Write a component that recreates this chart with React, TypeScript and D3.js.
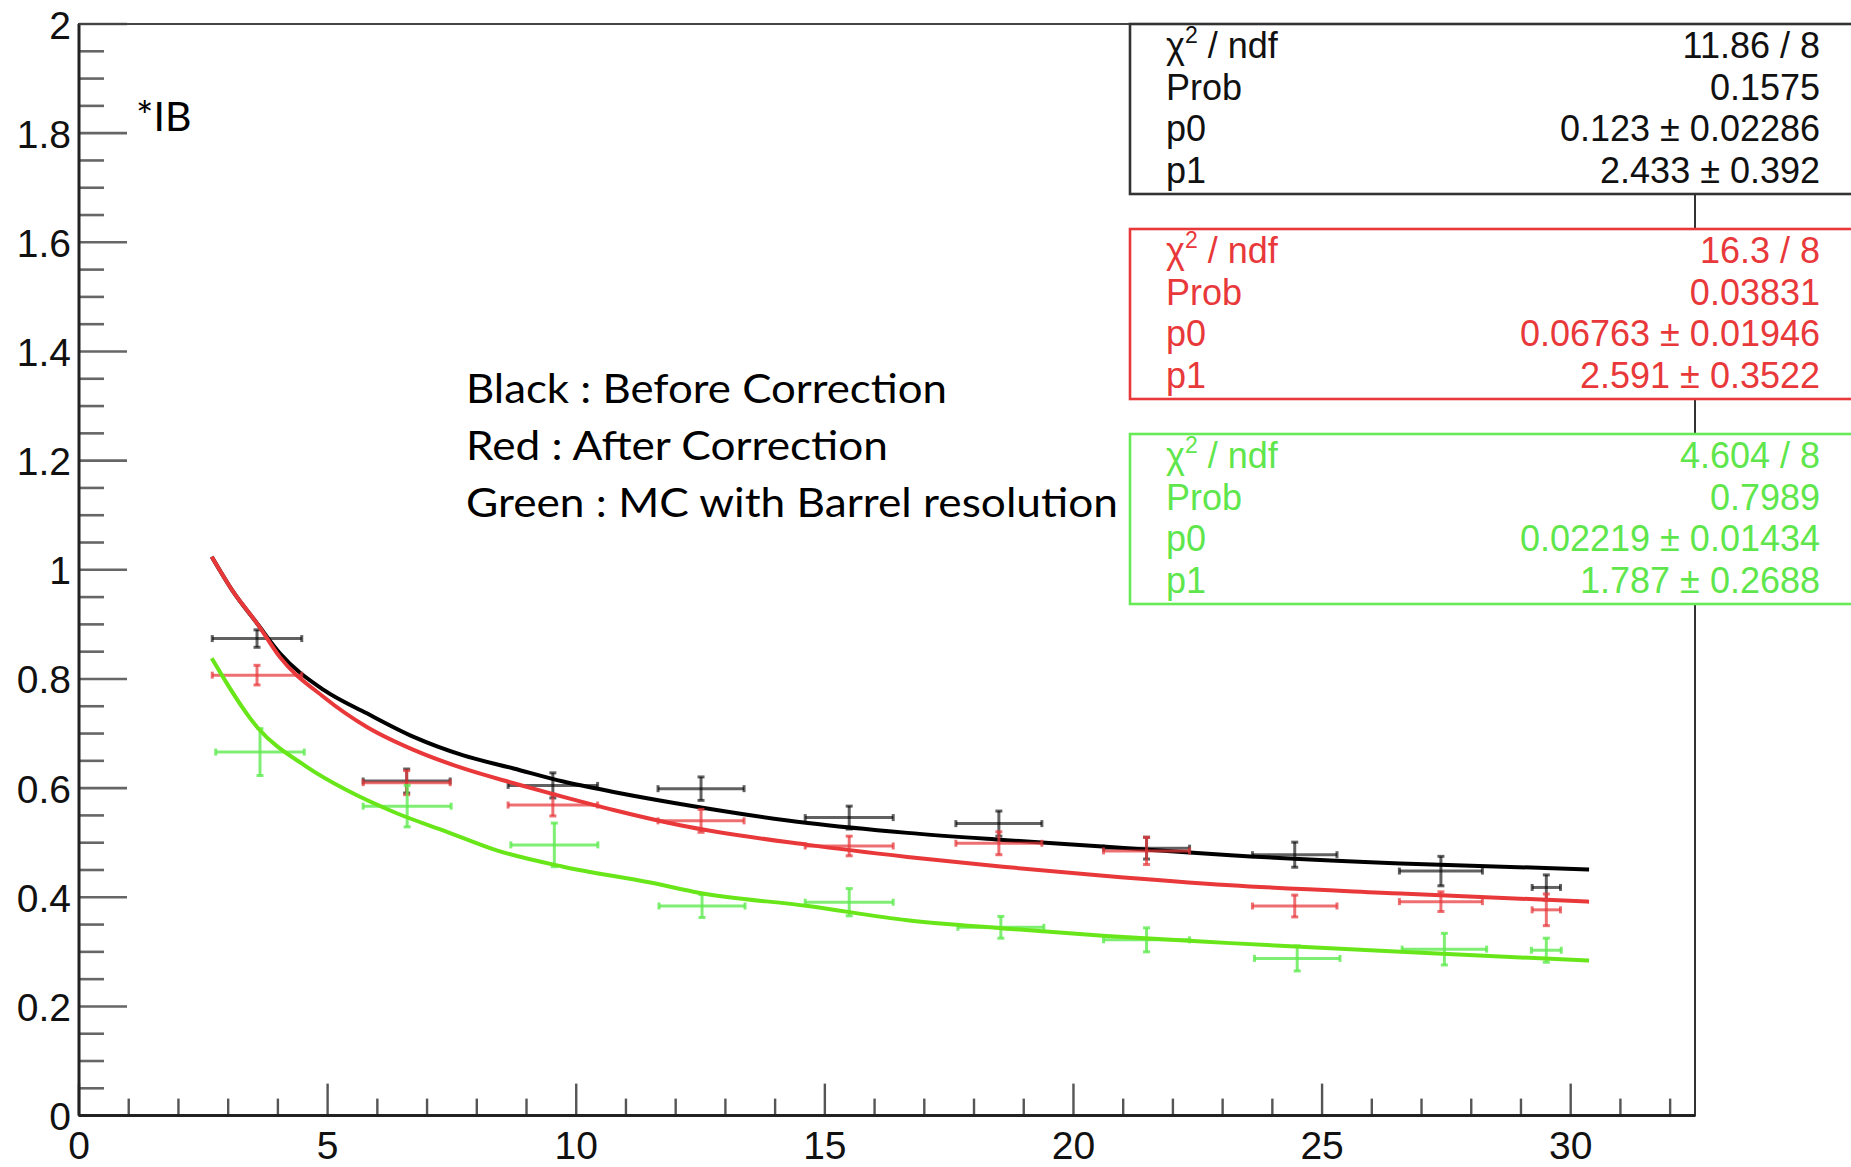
import * as d3 from "d3";

const WIDTH = 1851;
const HEIGHT = 1167;
const FRAME = { left: 79, top: 24, right: 1695, bottom: 1115.6 };

// bin centres and half widths (shared by the three graphs)
const binX = [3.58, 6.59, 9.53, 12.51, 15.49, 18.5, 21.47, 24.45, 27.39, 29.51];
const binXErr = [0.9, 0.875, 0.9, 0.865, 0.885, 0.865, 0.865, 0.85, 0.835, 0.285];
const greenX = [3.64, 6.6, 9.56, 12.53, 15.49, 18.54, 21.47, 24.5, 27.46, 29.51];
const greenXErr = [0.89, 0.885, 0.875, 0.865, 0.885, 0.865, 0.865, 0.86, 0.85, 0.3];

const blackY = [0.874, 0.613, 0.605, 0.599, 0.546, 0.535, 0.49, 0.478, 0.448, 0.418];
const blackYErr = [0.016, 0.022, 0.023, 0.0215, 0.021, 0.023, 0.02, 0.023, 0.027, 0.023];
const redY = [0.807, 0.61, 0.569, 0.54, 0.494, 0.499, 0.485, 0.384, 0.392, 0.377];
const redYErr = [0.018, 0.022, 0.02, 0.021, 0.018, 0.021, 0.025, 0.02, 0.018, 0.029];
const greenY = [0.666, 0.567, 0.496, 0.384, 0.391, 0.345, 0.322, 0.288, 0.305, 0.303];
const greenYErr = [0.043, 0.038, 0.04, 0.021, 0.025, 0.02, 0.022, 0.023, 0.029, 0.022];

// fitted curves
const fitX = [2.67, 3.1, 3.58, 4.04, 4.92, 5.79, 6.73, 7.73, 8.74, 9.74, 10.75, 12.09, 14.66, 16.66, 18.58, 20.66, 23.16, 26.58, 30.37];
const blackFit = [1.024, 0.96, 0.902, 0.847, 0.78, 0.737, 0.694, 0.66, 0.636, 0.612, 0.593, 0.571, 0.536, 0.518, 0.505, 0.4925, 0.477, 0.462, 0.451];
const redFit = [1.024, 0.96, 0.902, 0.84, 0.767, 0.712, 0.67, 0.636, 0.609, 0.584, 0.56, 0.532, 0.496, 0.474, 0.456, 0.439, 0.422, 0.407, 0.392];
const greenFitX = [2.67, 3.58, 4.58, 5.39, 6.39, 7.4, 8.4, 9.74, 11.49, 12.49, 14.66, 16.66, 18.58, 20.66, 23.16, 26.58, 30.37];
const greenFit = [0.838, 0.712, 0.639, 0.596, 0.554, 0.52, 0.486, 0.456, 0.427, 0.408, 0.384, 0.358, 0.343, 0.329, 0.316, 0.3, 0.284];

const statNames = ["ndf", "Prob", "p0", "p1"];
const blackStats = ["11.86 / 8", "0.1575", "0.123 \u00B1 0.02286", "2.433 \u00B1 0.392"];
const redStats = ["16.3 / 8", "0.03831", "0.06763 \u00B1 0.01946", "2.591 \u00B1 0.3522"];
const greenStats = ["4.604 / 8", "0.7989", "0.02219 \u00B1 0.01434", "1.787 \u00B1 0.2688"];

const legendLines = [
  "Black : Before Correction",
  "Red : After Correction",
  "Green : MC with Barrel resolution",
];

const RED = "#e8383a";
const GREEN_LINE = "#68e61a";
const GREEN_TEXT = "#5fe64c";

type Series = {
  x: number[];
  xe: number[];
  y: number[];
  ye: number[];
  fx: number[];
  fy: number[];
  barColor: string;
  lineColor: string;
};

const series: Series[] = [
  { x: binX, xe: binXErr, y: blackY, ye: blackYErr, fx: fitX, fy: blackFit, barColor: "rgba(0,0,0,0.62)", lineColor: "#000" },
  { x: binX, xe: binXErr, y: redY, ye: redYErr, fx: fitX, fy: redFit, barColor: "rgba(232,56,58,0.72)", lineColor: RED },
  { x: greenX, xe: greenXErr, y: greenY, ye: greenYErr, fx: greenFitX, fy: greenFit, barColor: "rgba(95,235,80,0.8)", lineColor: GREEN_LINE },
];

const stats = [
  { values: blackStats, color: "#111", border: "#333" },
  { values: redStats, color: RED, border: RED },
  { values: greenStats, color: GREEN_TEXT, border: "#66ea55" },
];

export default function App() {
  const xScale = d3.scaleLinear().domain([0, 32.5]).range([FRAME.left, FRAME.right]);
  const yScale = d3.scaleLinear().domain([0, 2]).range([FRAME.bottom, FRAME.top]);

  const line = d3
    .line<[number, number]>()
    .x((d) => xScale(d[0]))
    .y((d) => yScale(d[1]))
    .curve(d3.curveMonotoneX);

  const yTicks = d3.range(0, 41).map((i) => ({ v: i * 0.05, major: i % 4 === 0 }));
  const xTicks = d3.range(0, 33).map((i) => ({ v: i, major: i % 5 === 0 }));

  const cap = 3.5;

  return (
    <div style={{ position: "absolute", left: 0, top: 0 }}>
      <svg width={WIDTH} height={HEIGHT} style={{ display: "block", background: "#fff" }}>
        {/* frame */}
        <rect
          x={FRAME.left}
          y={FRAME.top}
          width={FRAME.right - FRAME.left}
          height={FRAME.bottom - FRAME.top}
          fill="none"
          stroke="#333"
          strokeWidth={2}
        />

        {/* y ticks */}
        {yTicks.map((t, i) => (
          <line
            key={"yt" + i}
            x1={FRAME.left}
            x2={FRAME.left + (t.major ? 48 : 25)}
            y1={yScale(t.v)}
            y2={yScale(t.v)}
            stroke="#666"
            strokeWidth={2.6}
          />
        ))}
        {yTicks
          .filter((t) => t.major)
          .map((t, i) => (
            <text
              key={"yl" + i}
              x={71}
              y={yScale(t.v) + 14.5}
              textAnchor="end"
              fontFamily="Liberation Sans, Arial, sans-serif"
              fontSize={39}
              fill="#111"
            >
              {d3.format("~g")(+t.v.toFixed(2))}
            </text>
          ))}

        {/* x ticks */}
        {xTicks.map((t, i) => (
          <line
            key={"xt" + i}
            x1={xScale(t.v)}
            x2={xScale(t.v)}
            y1={FRAME.bottom}
            y2={FRAME.bottom - (t.major ? 32 : 17)}
            stroke="#555"
            strokeWidth={2.4}
          />
        ))}
        {xTicks
          .filter((t) => t.major)
          .map((t, i) => (
            <text
              key={"xl" + i}
              x={xScale(t.v)}
              y={1159}
              textAnchor="middle"
              fontFamily="Liberation Sans, Arial, sans-serif"
              fontSize={39}
              fill="#111"
            >
              {t.v}
            </text>
          ))}

        {/* axis lines */}
        <line x1={FRAME.left} x2={FRAME.left} y1={FRAME.top} y2={FRAME.bottom} stroke="#222" strokeWidth={3} />
        <line x1={FRAME.left} x2={FRAME.right} y1={FRAME.bottom} y2={FRAME.bottom} stroke="#222" strokeWidth={3} />
        <line x1={FRAME.left} x2={WIDTH} y1={FRAME.top} y2={FRAME.top} stroke="#444" strokeWidth={2} />

        {/* graphs */}
        {series.map((s, si) => (
          <g key={"s" + si}>
            {s.x.map((xv, i) => {
              const cx = xScale(xv);
              const cy = yScale(s.y[i]);
              const x0 = xScale(xv - s.xe[i]);
              const x1 = xScale(xv + s.xe[i]);
              const y0 = yScale(s.y[i] + s.ye[i]);
              const y1 = yScale(s.y[i] - s.ye[i]);
              return (
                <g key={i} stroke={s.barColor} strokeWidth={3}>
                  <line x1={x0} x2={x1} y1={cy} y2={cy} />
                  <line x1={cx} x2={cx} y1={y0} y2={y1} />
                  <line x1={x0} x2={x0} y1={cy - cap} y2={cy + cap} />
                  <line x1={x1} x2={x1} y1={cy - cap} y2={cy + cap} />
                  <line x1={cx - cap} x2={cx + cap} y1={y0} y2={y0} />
                  <line x1={cx - cap} x2={cx + cap} y1={y1} y2={y1} />
                </g>
              );
            })}
            <path
              d={line(s.fx.map((v, i) => [v, s.fy[i]] as [number, number])) || ""}
              fill="none"
              stroke={s.lineColor}
              strokeWidth={4}
            />
          </g>
        ))}

        {/* stat boxes */}
        {stats.map((st, bi) => {
          const top = FRAME.top + bi * 205;
          return (
            <g key={"st" + bi}>
              <rect x={1130} y={top} width={760} height={170} fill="#fff" stroke={st.border} strokeWidth={2.6} />
              {statNames.map((name, ri) => {
                const by = top + 34 + ri * 41.5;
                return (
                  <g
                    key={ri}
                    fontFamily="Liberation Sans, Arial, sans-serif"
                    fontSize={36}
                    fill={st.color}
                  >
                    <text x={1166} y={by}>
                      {ri === 0 ? (
                        <>
                          <tspan>{"\u03C7"}</tspan>
                          <tspan fontSize={23} dy={-15}>
                            2
                          </tspan>
                          <tspan dy={15}>{" / " + name}</tspan>
                        </>
                      ) : (
                        name
                      )}
                    </text>
                    <text x={1820} y={by} textAnchor="end">
                      {st.values[ri]}
                    </text>
                  </g>
                );
              })}
            </g>
          );
        })}

        {/* annotations */}
        <text x={136} y={130.5} fontFamily="Lato, sans-serif" fontSize={41} fill="#000">
          *IB
        </text>
        {legendLines.map((l, i) => (
          <text
            key={"lg" + i}
            x={466}
            y={403.3 + i * 56.7}
            fontFamily="Lato, sans-serif"
            fontSize={40}
            fill="#000"
            textLength={[481, 422, 652][i]}
            lengthAdjust="spacingAndGlyphs"
          >
            {l}
          </text>
        ))}
      </svg>
    </div>
  );
}
